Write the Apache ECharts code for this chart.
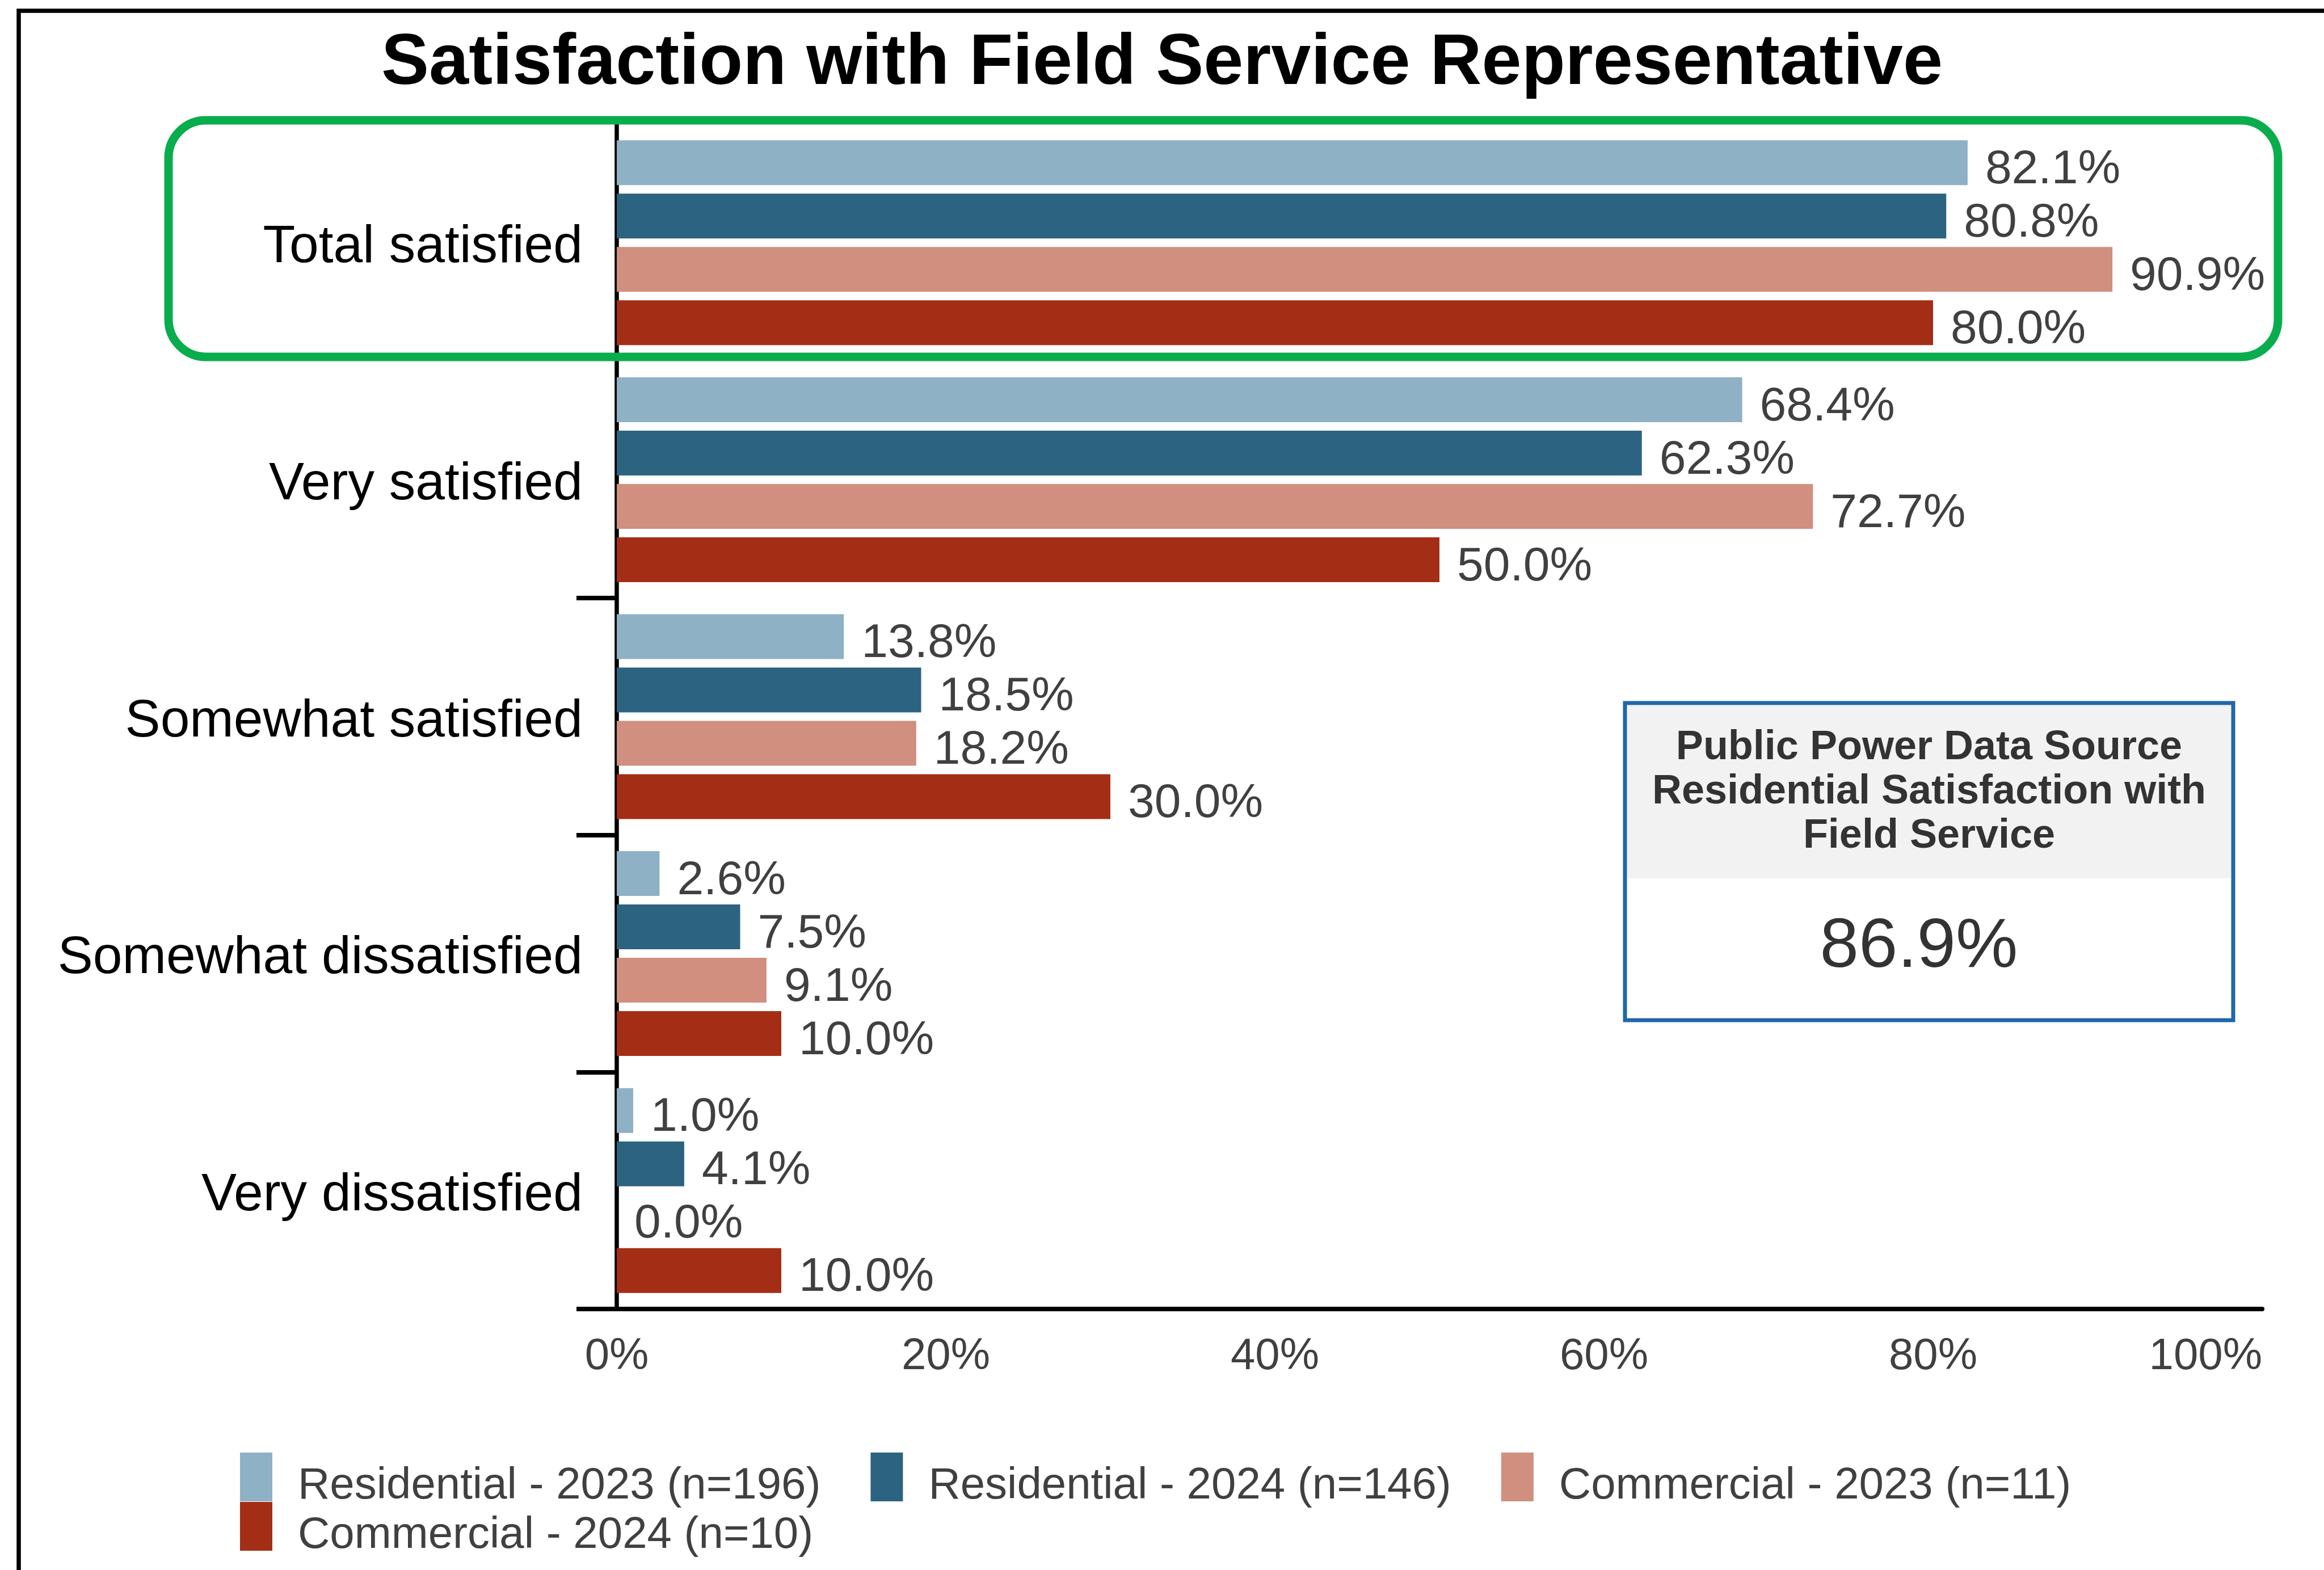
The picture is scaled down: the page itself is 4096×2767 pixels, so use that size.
<!DOCTYPE html>
<html>
<head>
<meta charset="utf-8">
<title>Satisfaction with Field Service Representative</title>
<script src="https://cdn.jsdelivr.net/npm/echarts@6/dist/echarts.min.js"></script>
<style>
  html, body { margin: 0; padding: 0; background: #ffffff; }
  #chart { width: 4096px; height: 2767px; }
</style>
</head>
<body>
<div id="chart"></div>
<script>
// Survey categories (top to bottom)
const categories = ['Total satisfied', 'Very satisfied', 'Somewhat satisfied', 'Somewhat dissatisfied', 'Very dissatisfied'];

// Percent of respondents per group
const residential2023 = [82.1, 68.4, 13.8, 2.6, 1.0];
const residential2024 = [80.8, 62.3, 18.5, 7.5, 4.1];
const commercial2023  = [90.9, 72.7, 18.2, 9.1, 0.0];
const commercial2024  = [80.0, 50.0, 30.0, 10.0, 10.0];

const seriesNames = [
  'Residential - 2023 (n=196)',
  'Residential - 2024 (n=146)',
  'Commercial - 2023 (n=11)',
  'Commercial - 2024 (n=10)'
];
const seriesColors = ['#8FB1C6', '#2C6380', '#D08F7F', '#A32E15'];

const chartTitle = 'Satisfaction with Field Service Representative';
const benchmarkHeading = 'Public Power Data Source\nResidential Satisfaction with\nField Service';
const benchmarkValue = '86.9%';

const FONT = '"Liberation Sans", Arial, Helvetica, sans-serif';
const TEXT_GRAY = '#404040';

// Legend swatch: a tall bar that sits in the upper part of the item box,
// so the legend text lands slightly below the swatch centre.
const LEGEND_ICON = 'path://M0,0L57,0L57,86L0,86Z M0,118L0.01,118';

const chart = echarts.init(document.getElementById('chart'), null, { renderer: 'canvas' });

const seriesData = [residential2023, residential2024, commercial2023, commercial2024];

const series = seriesData.map((values, i) => ({
  name: seriesNames[i],
  type: 'bar',
  data: values,
  barWidth: 79,
  barGap: '19%',
  itemStyle: { color: seriesColors[i] },
  label: {
    show: true,
    position: 'right',
    distance: 31,
    offset: [0, 13],
    formatter: p => p.value.toFixed(1) + '%',
    fontFamily: FONT,
    fontSize: 84,
    color: TEXT_GRAY
  },
  emphasis: { disabled: true }
}));

const legendCommon = {
  left: 418,
  orient: 'horizontal',
  icon: LEGEND_ICON,
  itemWidth: 57,
  itemHeight: 118,
  itemGap: 88,
  selectedMode: false,
  textStyle: {
    fontFamily: FONT,
    fontSize: 78,
    lineHeight: 78,
    color: TEXT_GRAY,
    padding: [0, 0, 0, 40]
  }
};

const option = {
  backgroundColor: '#ffffff',
  animation: false,
  title: {
    text: chartTitle,
    left: 'center',
    top: 45,
    textStyle: {
      fontFamily: FONT,
      fontWeight: 'bold',
      fontSize: 126,
      lineHeight: 126,
      color: '#000000'
    }
  },
  legend: [
    Object.assign({}, legendCommon, { top: 2555, data: seriesNames.slice(0, 3) }),
    Object.assign({}, legendCommon, { top: 2642, data: seriesNames.slice(3) })
  ],
  grid: {
    left: 1087,
    top: 219,
    width: 2900,
    height: 2088,
    containLabel: false
  },
  xAxis: {
    type: 'value',
    min: 0,
    max: 100,
    interval: 20,
    axisLine: { show: true, lineStyle: { color: '#000000', width: 8 } },
    axisTick: { show: false },
    splitLine: { show: false },
    axisLabel: {
      formatter: '{value}%',
      fontFamily: FONT,
      fontSize: 78,
      color: TEXT_GRAY,
      margin: 45,
      alignMaxLabel: 'right'
    }
  },
  yAxis: {
    type: 'category',
    data: categories,
    inverse: true,
    axisLine: { show: true, lineStyle: { color: '#000000', width: 7.5 } },
    axisTick: {
      show: true,
      length: 71,
      interval: idx => idx >= 2,
      lineStyle: { color: '#000000', width: 8 }
    },
    axisLabel: {
      fontFamily: FONT,
      fontSize: 93,
      lineHeight: 18,
      verticalAlign: 'top',
      color: '#000000',
      margin: 60
    },
    splitLine: { show: false }
  },
  series: series,
  graphic: [
    // frame along the top and left edges
    {
      type: 'polyline',
      z: 100,
      shape: { points: [[33, 2800], [33, 19], [4120, 19]] },
      style: { stroke: '#000000', lineWidth: 7.5, fill: null }
    },
    // highlight around the "Total satisfied" group
    {
      type: 'rect',
      z: 100,
      shape: { x: 297, y: 212, width: 3718, height: 417, r: 66 },
      style: { fill: null, stroke: '#0AAD4E', lineWidth: 15 }
    },
    // benchmark callout box
    {
      type: 'rect',
      z: 100,
      shape: { x: 2864, y: 1239, width: 1072, height: 559 },
      style: { fill: '#ffffff', stroke: '#1F67A8', lineWidth: 7 }
    },
    {
      type: 'rect',
      z: 101,
      shape: { x: 2868, y: 1243, width: 1064, height: 305 },
      style: { fill: '#F2F2F2' }
    },
    {
      type: 'text',
      z: 102,
      x: 3400,
      y: 1396,
      style: {
        text: benchmarkHeading,
        fontFamily: FONT,
        fontWeight: 'bold',
        fontSize: 72,
        lineHeight: 78,
        fill: '#333333',
        align: 'center',
        verticalAlign: 'middle'
      }
    },
    {
      type: 'text',
      z: 102,
      x: 3382,
      y: 1670,
      style: {
        text: benchmarkValue,
        fontFamily: FONT,
        fontSize: 123,
        fill: '#333333',
        align: 'center',
        verticalAlign: 'middle'
      }
    }
  ]
};

chart.setOption(option);
</script>
</body>
</html>
